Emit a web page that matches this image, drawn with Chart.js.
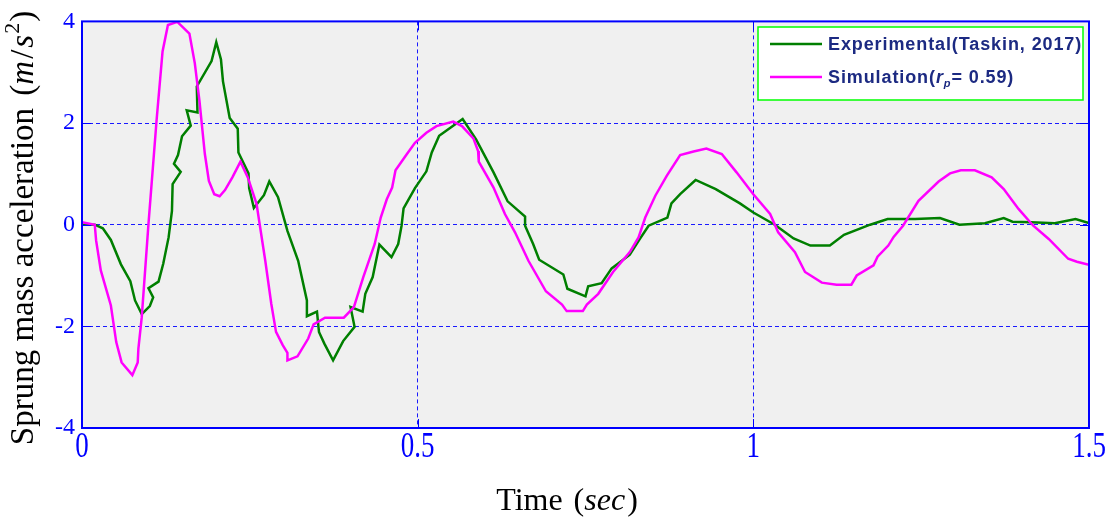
<!DOCTYPE html>
<html>
<head>
<meta charset="utf-8">
<script src="https://cdn.jsdelivr.net/npm/chart.js@4.4.0/dist/chart.umd.min.js"></script>
<style>
  html, body { margin: 0; padding: 0; background: #fff; }
  #wrap { width: 1119px; height: 517px; }
</style>
</head>
<body>
<div id="wrap"><canvas id="accelChart"></canvas></div>
<script>
// Sprung mass acceleration: measured response vs. simulation
const expTime = [0, 0.019, 0.031, 0.043, 0.058, 0.072, 0.079, 0.089, 0.101, 0.106, 0.099, 0.114,
  0.121, 0.129, 0.134, 0.135, 0.147, 0.137, 0.143, 0.149, 0.162, 0.156, 0.172, 0.171, 0.193, 0.200,
  0.207, 0.210, 0.220, 0.232, 0.233, 0.248, 0.249, 0.256, 0.271, 0.279, 0.292, 0.306, 0.322, 0.335,
  0.335, 0.350, 0.353, 0.361, 0.374, 0.389, 0.406, 0.400, 0.418, 0.422, 0.433, 0.443, 0.461, 0.471,
  0.476, 0.479, 0.496, 0.513, 0.521, 0.532, 0.567, 0.587, 0.613, 0.634, 0.660, 0.660, 0.672, 0.681,
  0.717, 0.723, 0.750, 0.754, 0.774, 0.789, 0.816, 0.831, 0.844, 0.872, 0.878, 0.891, 0.914, 0.944,
  0.980, 1.000, 1.032, 1.060, 1.085, 1.114, 1.135, 1.174, 1.200, 1.241, 1.278, 1.307, 1.345, 1.373,
  1.386, 1.414, 1.449, 1.480, 1.500];
const expAccel = [0, 0, -0.07, -0.30, -0.78, -1.11, -1.49, -1.76, -1.60, -1.43, -1.25, -1.12,
  -0.77, -0.25, 0.27, 0.80, 1.04, 1.20, 1.37, 1.74, 1.95, 2.25, 2.21, 2.72, 3.22, 3.59,
  3.25, 2.82, 2.10, 1.89, 1.42, 1.01, 0.72, 0.33, 0.58, 0.85, 0.54, -0.12, -0.71, -1.49,
  -1.80, -1.71, -2.11, -2.34, -2.67, -2.29, -2.01, -1.62, -1.71, -1.36, -1.03, -0.39, -0.64, -0.38,
  -0.02, 0.32, 0.72, 1.05, 1.42, 1.75, 2.08, 1.68, 1.03, 0.46, 0.16, -0.02, -0.38, -0.69,
  -0.98, -1.26, -1.41, -1.21, -1.15, -0.86, -0.59, -0.28, -0.02, 0.14, 0.42, 0.60, 0.88, 0.70,
  0.42, 0.24, 0, -0.27, -0.41, -0.41, -0.20, 0, 0.11, 0.11, 0.13, 0.00, 0.03, 0.13,
  0.06, 0.05, 0.03, 0.11, 0.03];

const simTime = [0, 0.019, 0.021, 0.028, 0.043, 0.051, 0.059, 0.075, 0.083, 0.084, 0.089, 0.099,
  0.111, 0.120, 0.128, 0.142, 0.160, 0.168, 0.175, 0.183, 0.189, 0.197, 0.205, 0.213, 0.224, 0.236,
  0.247, 0.260, 0.273, 0.282, 0.289, 0.299, 0.306, 0.306, 0.321, 0.337, 0.345, 0.362, 0.390, 0.405,
  0.419, 0.436, 0.445, 0.454, 0.462, 0.467, 0.484, 0.496, 0.513, 0.528, 0.553, 0.566, 0.583, 0.590,
  0.591, 0.613, 0.630, 0.645, 0.665, 0.691, 0.715, 0.722, 0.746, 0.752, 0.769, 0.791, 0.816, 0.829,
  0.839, 0.854, 0.871, 0.891, 0.911, 0.930, 0.953, 0.975, 1.000, 1.025, 1.037, 1.062, 1.077, 1.102,
  1.124, 1.146, 1.154, 1.179, 1.185, 1.201, 1.209, 1.223, 1.246, 1.276, 1.293, 1.309, 1.330, 1.355,
  1.373, 1.395, 1.417, 1.440, 1.469, 1.482, 1.500];
const simAccel = [0.05, 0, -0.31, -0.90, -1.59, -2.31, -2.71, -2.96, -2.71, -2.44, -1.82, 0.01,
  2.04, 3.41, 3.93, 3.99, 3.76, 3.18, 2.43, 1.39, 0.86, 0.60, 0.56, 0.68, 0.93, 1.24,
  0.93, 0.41, -0.71, -1.56, -2.11, -2.37, -2.52, -2.67, -2.59, -2.24, -1.96, -1.83, -1.83, -1.62,
  -1.03, -0.38, 0.14, 0.50, 0.73, 1.07, 1.39, 1.61, 1.81, 1.94, 2.03, 1.94, 1.70, 1.45,
  1.24, 0.73, 0.21, -0.15, -0.71, -1.31, -1.57, -1.70, -1.70, -1.57, -1.36, -0.93, -0.54, -0.25,
  0.14, 0.57, 0.96, 1.37, 1.44, 1.50, 1.39, 1.03, 0.60, 0.21, -0.15, -0.54, -0.93, -1.14,
  -1.18, -1.18, -1.00, -0.80, -0.63, -0.41, -0.24, -0.02, 0.47, 0.85, 1.01, 1.07, 1.07, 0.93,
  0.70, 0.31, -0.02, -0.28, -0.67, -0.73, -0.79];

const xTicks = [0, 0.5, 1, 1.5];
const xTickLabels = ['0', '0.5', '1', '1.5'];
const yTickLabels = ['-4', '-2', '0', '2', '4'];

const toPoints = (xs, ys) => xs.map((x, i) => ({ x, y: ys[i] }));

const BLUE = '#0000ff';
const SERIF = '"Liberation Serif", "DejaVu Serif", serif';

// draws a run of [text, font, dy, gapAfter] pieces starting at x, returns end x
function drawRuns(ctx, runs, x, y) {
  runs.forEach(([txt, font, dy, gap]) => {
    ctx.font = font;
    ctx.fillText(txt, x, y + (dy || 0));
    x += ctx.measureText(txt).width + (gap || 0);
  });
  return x;
}
function runsWidth(ctx, runs) {
  let w = 0;
  runs.forEach(([txt, font, dy, gap]) => { ctx.font = font; w += ctx.measureText(txt).width + (gap || 0); });
  return w;
}

const matlabAxes = {
  id: 'matlabAxes',
  beforeDraw(chart) {
    const { ctx, chartArea: a } = chart;
    ctx.save();
    ctx.fillStyle = '#f0f0f0';
    ctx.fillRect(a.left, a.top, a.right - a.left, a.bottom - a.top);
    ctx.restore();
  },
  afterDraw(chart) {
    const { ctx, chartArea: a, scales } = chart;
    ctx.save();

    // box and inward tick marks
    ctx.strokeStyle = BLUE;
    ctx.lineWidth = 2;
    ctx.strokeRect(a.left, a.top, a.right - a.left, a.bottom - a.top);
    ctx.lineWidth = 1;
    ctx.beginPath();
    scales.y.ticks.forEach(t => {
      const py = Math.round(scales.y.getPixelForValue(t.value)) + 0.5;
      ctx.moveTo(a.left, py); ctx.lineTo(a.left + 9, py);
      ctx.moveTo(a.right, py); ctx.lineTo(a.right - 9, py);
    });
    scales.x.ticks.forEach(t => {
      const px = Math.round(scales.x.getPixelForValue(t.value)) + 0.5;
      ctx.moveTo(px, a.bottom); ctx.lineTo(px, a.bottom - 9);
      ctx.moveTo(px, a.top); ctx.lineTo(px, a.top + 9);
    });
    ctx.stroke();

    // x tick labels, tall and narrow
    ctx.fillStyle = BLUE;
    ctx.font = '27px ' + SERIF;
    ctx.textAlign = 'center';
    ctx.textBaseline = 'alphabetic';
    xTicks.forEach((v, i) => {
      const px = scales.x.getPixelForValue(v);
      ctx.save();
      ctx.translate(px, 457);
      ctx.scale(1, 1.3);
      ctx.fillText(xTickLabels[i], 0, 0);
      ctx.restore();
    });

    // axis titles
    ctx.fillStyle = '#000';
    ctx.textAlign = 'left';
    const reg = '32px ' + SERIF, ital = 'italic 32px ' + SERIF;
    const xRuns = [['Time ', reg, 0, 3], ['(', reg], ['sec', ital, 0, 2], [')', reg]];
    const xw = runsWidth(ctx, xRuns);
    drawRuns(ctx, xRuns, 567 - xw / 2, 510);

    const yReg = '33px ' + SERIF, yItal = 'italic 33px ' + SERIF;
    const yRuns = [['Sprung mass acceleration ', yReg, 0, 4], ['(', yReg], ['m', yItal, 0, 2], ['/', yReg, 0, 2],
      ['s', yItal, 0, 1], ['2', '22px ' + SERIF, -14, 1], [')', yReg]];
    const yw = runsWidth(ctx, yRuns);
    ctx.save();
    ctx.translate(33, 228);
    ctx.rotate(-Math.PI / 2);
    drawRuns(ctx, yRuns, -yw / 2, 0);
    ctx.restore();

    // legend box
    const lx = 758, ly = 27, lw = 325, lh = 73;
    ctx.fillStyle = '#fff';
    ctx.fillRect(lx, ly, lw, lh);
    ctx.strokeStyle = '#00ff00';
    ctx.lineWidth = 1.5;
    ctx.strokeRect(lx, ly, lw, lh);

    const sans = '"Liberation Sans", Arial, sans-serif';
    const rows = [
      { color: chart.data.datasets[0].borderColor, y: 44,
        runs: [[chart.data.datasets[0].label, 'bold 18px ' + sans]] },
      { color: chart.data.datasets[1].borderColor, y: 77,
        runs: [['Simulation(', 'bold 18px ' + sans],
               ['r', 'bold italic 18px ' + sans],
               ['p', 'bold italic 11px ' + sans, 4],
               ['= 0.59)', 'bold 18px ' + sans]] }
    ];
    rows.forEach(r => {
      ctx.strokeStyle = r.color;
      ctx.lineWidth = 2.7;
      ctx.beginPath();
      ctx.moveTo(770, r.y); ctx.lineTo(822, r.y);
      ctx.stroke();
      ctx.fillStyle = '#1c2a82';
      if ('letterSpacing' in ctx) ctx.letterSpacing = '0.9px';
      drawRuns(ctx, r.runs, 828, r.y + 6);
      if ('letterSpacing' in ctx) ctx.letterSpacing = '0px';
    });

    ctx.restore();
  }
};

const gridOpts = { color: '#1a1aff', lineWidth: 1, drawTicks: false };

new Chart(document.getElementById('accelChart'), {
  type: 'line',
  data: {
    datasets: [
      {
        label: 'Experimental(Taskin, 2017)',
        data: toPoints(expTime, expAccel),
        borderColor: '#007f00',
        borderWidth: 2.5,
        pointRadius: 0,
        fill: false,
        order: 1
      },
      {
        label: 'Simulation(rp= 0.59)',
        data: toPoints(simTime, simAccel),
        borderColor: '#ff00ff',
        borderWidth: 2.5,
        pointRadius: 0,
        fill: false,
        order: 0
      }
    ]
  },
  options: {
    responsive: true,
    maintainAspectRatio: false,
    animation: false,
    layout: { padding: { top: 20, right: 30, left: 0, bottom: 0 } },
    plugins: { legend: { display: false }, tooltip: { enabled: false } },
    scales: {
      x: {
        type: 'linear',
        min: 0,
        max: 1.5,
        afterBuildTicks: s => { s.ticks = xTicks.map(v => ({ value: v })); },
        afterFit: s => { s.height = 89; },
        ticks: { display: false },
        grid: gridOpts,
        border: { display: false, dash: [4, 3] }
      },
      y: {
        min: -4,
        max: 4,
        afterFit: s => { s.width = 82; },
        ticks: {
          stepSize: 2,
          padding: 7,
          color: BLUE,
          font: { family: SERIF, size: 24 },
          callback: (v, i) => yTickLabels[i]
        },
        grid: gridOpts,
        border: { display: false, dash: [4, 3] }
      }
    }
  },
  plugins: [matlabAxes]
});
</script>
</body>
</html>
